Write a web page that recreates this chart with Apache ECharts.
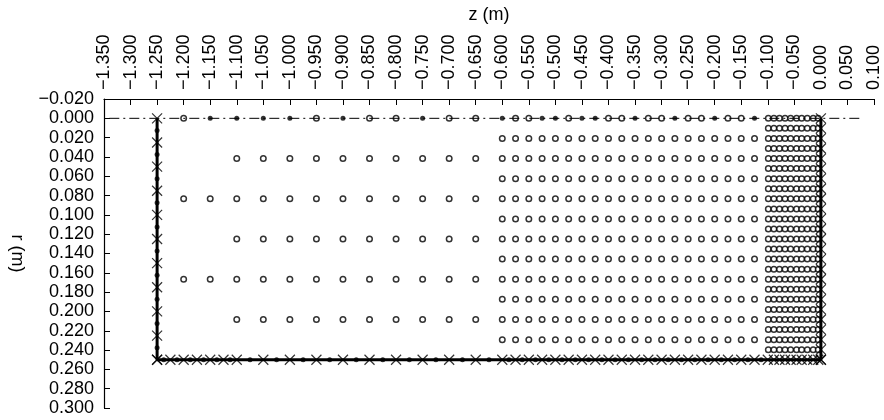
<!DOCTYPE html>
<html>
<head>
<meta charset="utf-8">
<script src="https://cdn.jsdelivr.net/npm/echarts@6/dist/echarts.min.js"></script>
<style>html,body{margin:0;padding:0;background:#fff}#c{width:884px;height:420px}</style>
</head>
<body>
<div id="c"></div>
<script>
// ---- data ----
// coarse mesh (z columns, r rows)
var coarseZLong = [-1.2, -1.15, -1.1, -1.05, -1.0, -0.95, -0.9, -0.85, -0.8, -0.75, -0.7, -0.65];
var coarseZShort = [-1.1, -1.05, -1.0, -0.95, -0.9, -0.85, -0.8, -0.75, -0.7, -0.65];
var coarseRLong = [0.0833, 0.1667];
var coarseRShort = [0.0417, 0.125, 0.2083];
// medium mesh
var mediumZ = [-0.6, -0.575, -0.55, -0.525, -0.5, -0.475, -0.45, -0.425, -0.4, -0.375, -0.35, -0.325, -0.3, -0.275, -0.25, -0.225, -0.2, -0.175, -0.15, -0.125];
var mediumR = [0.0208, 0.0417, 0.0625, 0.0833, 0.1042, 0.125, 0.1458, 0.1667, 0.1875, 0.2083, 0.2292];
// fine mesh
var fineZ = [-0.099, -0.0885, -0.078, -0.0675, -0.057, -0.0458, -0.0362, -0.0256, -0.0145, -0.005];
var fineR = [0, 0.0104, 0.0208, 0.0313, 0.0417, 0.0521, 0.0625, 0.0729, 0.0833, 0.0938, 0.1042, 0.1146, 0.125, 0.1354, 0.1458, 0.1563, 0.1667, 0.1771, 0.1875, 0.1979, 0.2083, 0.2188, 0.2292, 0.2396];
// nodes on the symmetry axis r = 0
var axisOpenZ = [-1.2, -0.95, -0.85, -0.8, -0.7, -0.65, -0.575, -0.55, -0.475, -0.4, -0.375, -0.325, -0.3, -0.25, -0.225, -0.175, -0.15];
var axisFilledZ = [-1.15, -1.1, -1.05, -1.0, -0.9, -0.75, -0.6, -0.525, -0.5, -0.45, -0.425, -0.35, -0.275, -0.2, -0.125];
// boundary outline
var boundaryZ = [-1.25, -1.25, 0, 0];
var boundaryR = [0, 0.25, 0.25, 0];
// centre line
var centerZ = [-1.34, 0.075];
var centerR = [0, 0];
// boundary markers
var leftCrossR = [0, 0.025, 0.05, 0.075, 0.1, 0.125, 0.15, 0.175, 0.2, 0.225, 0.25];
var leftDotR = [0.0125, 0.0375, 0.0625, 0.0875, 0.1125, 0.1375, 0.1625, 0.1875, 0.2125, 0.2375];
var bottomCrossZ = [-1.25, -1.225, -1.2, -1.175, -1.15, -1.125, -1.1, -1.05, -1.0, -0.95, -0.9, -0.85, -0.8, -0.75, -0.7, -0.65, -0.6, -0.575, -0.55, -0.525, -0.5, -0.475, -0.45, -0.425, -0.4, -0.375, -0.35, -0.325, -0.3, -0.275, -0.25, -0.225, -0.2, -0.175, -0.15, -0.125, -0.1, -0.0885, -0.078, -0.0675, -0.057, -0.0458, -0.0362, -0.0256, -0.0145, -0.005, 0];
var bottomDotZ = [-1.2375, -1.2125, -1.1875, -1.1625, -1.1375, -1.1125, -1.075, -1.025, -0.975, -0.925, -0.875, -0.825, -0.775, -0.725, -0.675, -0.625, -0.5875, -0.5625, -0.5375, -0.5125, -0.4875, -0.4625, -0.4375, -0.4125, -0.3875, -0.3625, -0.3375, -0.3125, -0.2875, -0.2625, -0.2375, -0.2125, -0.1875, -0.1625, -0.1375, -0.1125];
var rightCrossR = [0, 0.0104, 0.0208, 0.0313, 0.0417, 0.0521, 0.0625, 0.0729, 0.0833, 0.0938, 0.1042, 0.1146, 0.125, 0.1354, 0.1458, 0.1563, 0.1667, 0.1771, 0.1875, 0.1979, 0.2083, 0.2188, 0.2292, 0.2396, 0.25];

// ---- build point tables ----
function grid(zs, rs) { var out = []; rs.forEach(function (r) { zs.forEach(function (z) { out.push([z, r]); }); }); return out; }
function zip(zs, rs) { return zs.map(function (z, i) { return [z, rs[i]]; }); }
function atR(zs, r) { return zs.map(function (z) { return [z, r]; }); }
function atZ(rs, z) { return rs.map(function (r) { return [z, r]; }); }

var meshPts = [].concat(grid(coarseZLong, coarseRLong), grid(coarseZShort, coarseRShort), grid(mediumZ, mediumR), grid(fineZ, fineR), atR(axisOpenZ, 0));
var crossPts = [].concat(atZ(leftCrossR, -1.25), atR(bottomCrossZ, 0.25), atZ(rightCrossR, 0));
var dotPts = [].concat(atZ(leftDotR, -1.25), atR(bottomDotZ, 0.25), atR(axisFilledZ, 0));

function fmt(v) {
  var s = Math.abs(v) < 1e-9 ? '0.000' : v.toFixed(3);
  return s.replace('-', '\u2212');
}
var FONT = 'Liberation Sans';
var FS = 18;
var chart = echarts.init(document.getElementById('c'), null, { renderer: 'canvas' });
chart.setOption({
  animation: false,
  backgroundColor: '#fff',
  grid: { left: 104, top: 99, right: 10, bottom: 12, containLabel: false, outerBoundsMode: 'none' },
  xAxis: {
    type: 'value', position: 'top', min: -1.35, max: 0.1, interval: 0.05,
    name: 'z (m)', nameLocation: 'middle', nameGap: 75,
    nameTextStyle: { fontFamily: FONT, fontSize: FS, color: '#000' },
    axisLine: { show: true, onZero: false, lineStyle: { color: '#000', width: 1.2 } },
    axisTick: { show: true, inside: true, length: 6, lineStyle: { color: '#000' } },
    axisLabel: { rotate: -90, margin: 9, formatter: fmt, fontFamily: FONT, fontSize: FS, color: '#000', showMinLabel: true, showMaxLabel: true, hideOverlap: false },
    splitLine: { show: false }
  },
  yAxis: {
    type: 'value', inverse: true, min: -0.02, max: 0.3, interval: 0.02,
    name: 'r (m)', nameLocation: 'middle', nameGap: 78, nameRotate: -90,
    nameTextStyle: { fontFamily: FONT, fontSize: FS, color: '#000' },
    axisLine: { show: true, onZero: false, lineStyle: { color: '#000', width: 1.2 } },
    axisTick: { show: true, inside: true, length: 6, lineStyle: { color: '#000' } },
    axisLabel: { margin: 10, formatter: fmt, fontFamily: FONT, fontSize: FS, color: '#000', showMinLabel: true, showMaxLabel: true, hideOverlap: false },
    splitLine: { show: false }
  },
  series: [
    { type: 'line', data: zip(centerZ, centerR), symbol: 'none', silent: true,
      lineStyle: { color: '#000', width: 1, type: [10, 4, 2, 4] } },
    { type: 'line', data: zip(boundaryZ, boundaryR), symbol: 'none', silent: true,
      lineStyle: { color: '#000', width: 3 } },
    { type: 'scatter', data: meshPts, symbol: 'circle', symbolSize: 5.5,
      itemStyle: { color: '#fff', borderColor: '#000', borderWidth: 1.5 } },
    { type: 'scatter', data: dotPts, symbol: 'circle', symbolSize: 5,
      itemStyle: { color: '#000' } },
    { type: 'scatter', data: crossPts, symbol: 'path://M0,0L10,10M10,0L0,10', symbolSize: [10, 10], symbolKeepAspect: false,
      itemStyle: { color: 'none', borderColor: '#000', borderWidth: 1.2 } }
  ]
});
</script>
</body>
</html>
